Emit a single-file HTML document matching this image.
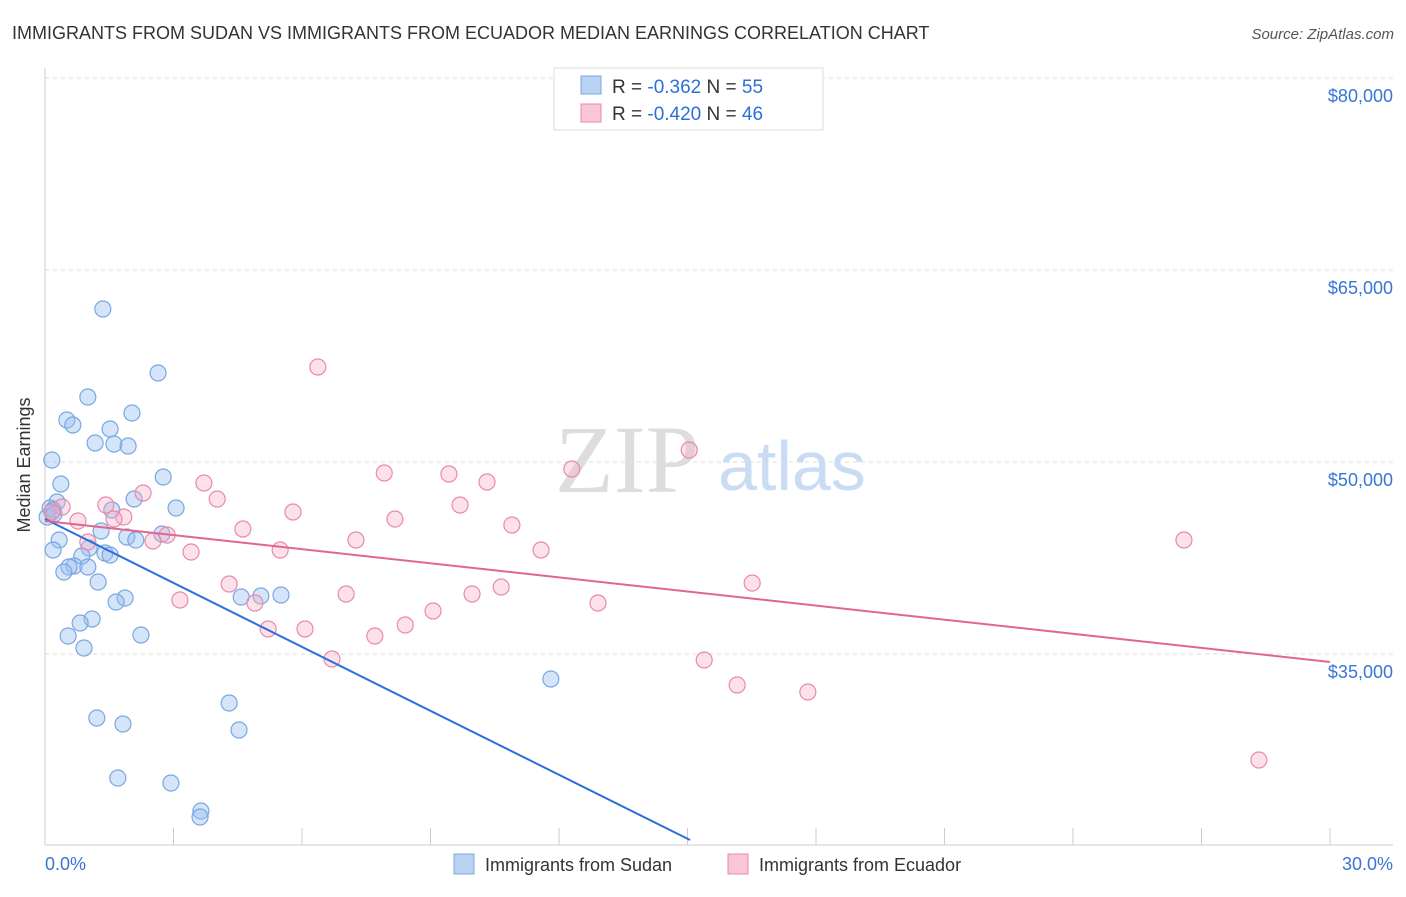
<!DOCTYPE html>
<html><head><meta charset="utf-8"><style>
body{margin:0;background:#fff;font-family:"Liberation Sans",sans-serif}
</style></head><body>
<svg width="1406" height="892" xmlns="http://www.w3.org/2000/svg" style="font-family:'Liberation Sans',sans-serif">
<text x="12" y="39" font-size="18" fill="#333">IMMIGRANTS FROM SUDAN VS IMMIGRANTS FROM ECUADOR MEDIAN EARNINGS CORRELATION CHART</text>
<text x="1394" y="39" font-size="15" fill="#555" text-anchor="end" font-style="italic">Source: ZipAtlas.com</text>
<g id="grid"></g>
<g><text x="555" y="492" font-size="96" fill="#ddd" font-family="'Liberation Serif',serif">ZIP</text><text x="718" y="490" font-size="70" fill="#c9dcf3">atlas</text></g>
<line x1="45" y1="68" x2="45" y2="845" stroke="#ccc"/>
<line x1="45" y1="845" x2="1393" y2="845" stroke="#ccc"/>
<g id="xticks"></g>
<text x="20" y="455" font-size="18" fill="#333" text-anchor="middle" transform="rotate(-90 30 455)">Median Earnings</text>
<text x="45" y="870" font-size="18" fill="#3a74d4">0.0%</text>
<text x="1393" y="870" font-size="18" fill="#3a74d4" text-anchor="end">30.0%</text>
<g id="pts"></g>
<g id="trends"></g>
<g>
<rect x="554" y="68" width="269" height="62" fill="#fff" stroke="#ddd"/>
<rect x="581" y="76" width="20" height="18" fill="#b8d2f4" stroke="#7aa7e0"/>
<rect x="581" y="104" width="20" height="18" fill="#f9c6d6" stroke="#e88aa8"/>
<text x="612" y="93" font-size="19" fill="#333">R = <tspan fill="#2a6fdb">-0.362</tspan>   N = <tspan fill="#2a6fdb">55</tspan></text>
<text x="612" y="120" font-size="19" fill="#333">R = <tspan fill="#2a6fdb">-0.420</tspan>   N = <tspan fill="#2a6fdb">46</tspan></text>
</g>
<g>
<rect x="454" y="854" width="20" height="20" fill="#b8d2f4" stroke="#7aa7e0"/>
<text x="485" y="871" font-size="18" fill="#333">Immigrants from Sudan</text>
<rect x="728" y="854" width="20" height="20" fill="#f9c6d6" stroke="#e88aa8"/>
<text x="759" y="871" font-size="18" fill="#333">Immigrants from Ecuador</text>
</g>
</svg>
<script>
const yTicks=[35000,50000,65000,80000];
const yTickLabels=["$35,000","$50,000","$65,000","$80,000"];
const xTicks=[0,3,6,9,12,15,18,21,24,27,30];
const sudanX=[1.35,2.64,1.00,2.03,0.51,0.65,1.52,1.17,1.61,1.94,0.16,2.76,0.37,2.08,0.28,0.12,1.56,3.06,0.05,1.31,0.33,1.91,2.12,2.73,1.03,0.19,1.40,0.86,1.52,0.68,0.56,1.00,0.44,1.24,1.87,1.66,1.10,0.82,0.54,0.91,2.24,4.58,5.04,5.51,11.81,4.30,1.21,1.82,4.53,1.70,2.94,3.64,3.62,0.19,0.21];
const sudanY=[61953,56953,55078,53828,53281,52891,52578,51484,51406,51250,50156,48828,48281,47109,46875,46406,46250,46406,45703,44609,43906,44141,43906,44375,43281,43125,42891,42656,42734,41875,41797,41797,41406,40625,39375,39063,37734,37422,36406,35469,36484,39453,39531,39609,33047,31172,30000,29531,29063,25313,24922,22734,22266,46250,45938];
const ecuadorX=[6.37,15.04,12.30,7.92,9.43,10.32,3.71,2.29,4.02,9.69,1.42,0.40,5.79,0.16,1.84,0.77,1.61,8.17,10.90,4.62,2.85,2.52,7.26,1.00,26.59,5.49,3.41,11.58,4.30,16.51,10.65,7.03,9.97,3.15,4.90,12.91,9.06,8.41,5.21,6.07,7.70,6.70,15.39,16.16,17.81,28.34];
const ecuadorY=[57422,50938,49453,49141,49063,48438,48359,47578,47109,46641,46641,46484,46094,46094,45703,45391,45547,45547,45078,44766,44297,43828,43906,43750,43906,43125,42969,43125,40469,40547,40234,39688,39688,39219,38984,38984,38359,37266,36953,36953,36406,34609,34531,32578,32031,26719];
const sudanTrendX=[0,15.06];
const sudanTrendY=[45547,20469];
const ecuadorTrendX=[0,30];
const ecuadorTrendY=[45391,34375];
const NS="http://www.w3.org/2000/svg";
const xs=v=>45+v*42.833;
const ys=v=>654-(v-35000)*0.0128;
function mk(t,a,p){const e=document.createElementNS(NS,t);for(const k in a)e.setAttribute(k,a[k]);p.appendChild(e);return e;}
const grid=document.getElementById('grid');
yTicks.forEach((v,i)=>{
 const l=mk('line',{x1:45,x2:1393,y1:ys(v),y2:ys(v),stroke:'#ddd','stroke-dasharray':'4,4'},grid);
 
 
 const t=mk('text',{x:1393,y:ys(v)+24,'font-size':18,fill:'#3a74d4','text-anchor':'end'},grid);
 t.textContent=yTickLabels[i];
 
 
});
const xt=document.getElementById('xticks');
xTicks.forEach(v=>{
 const l=mk('line',{x1:xs(v),x2:xs(v),y1:828,y2:845,stroke:'#ccc'},xt);
 
 
});
const pts=document.getElementById('pts');
sudanX.forEach((v,i)=>{
 const c=mk('circle',{cx:xs(v),cy:ys(sudanY[i]),r:8,fill:'rgba(150,190,240,0.4)',stroke:'#7aa7e0','stroke-width':1.2},pts);
 
 
});
ecuadorX.forEach((v,i)=>{
 const c=mk('circle',{cx:xs(v),cy:ys(ecuadorY[i]),r:8,fill:'rgba(245,170,195,0.35)',stroke:'#e88aa8','stroke-width':1.2},pts);
 
 
});
const tr=document.getElementById('trends');
const l1=mk('line',{x1:xs(sudanTrendX[0]),y1:ys(sudanTrendY[0]),x2:xs(sudanTrendX[1]),y2:ys(sudanTrendY[1]),stroke:'#2a6fdb','stroke-width':2},tr);


const l2=mk('line',{x1:xs(ecuadorTrendX[0]),y1:ys(ecuadorTrendY[0]),x2:xs(ecuadorTrendX[1]),y2:ys(ecuadorTrendY[1]),stroke:'#e06690','stroke-width':2},tr);


</script>
</body></html>
